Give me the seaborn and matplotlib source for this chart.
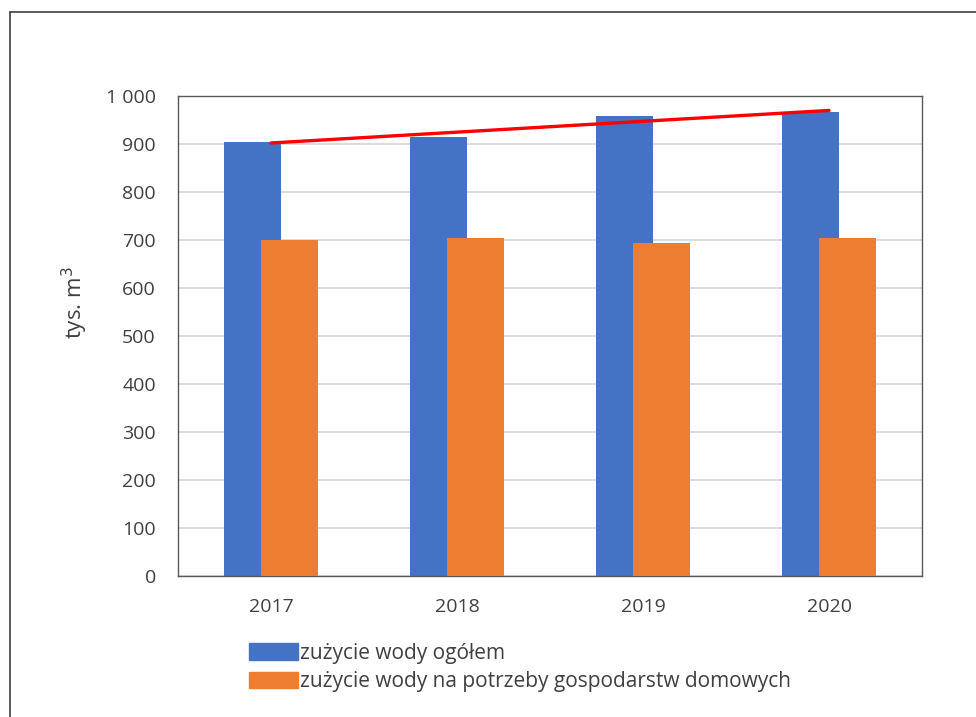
import numpy as np
import pandas as pd
import seaborn as sns
import matplotlib.pyplot as plt
from matplotlib.ticker import FuncFormatter, MultipleLocator
from matplotlib.patches import Patch
from matplotlib.lines import Line2D

# dane (tys. m3)
years = ['2017', '2018', '2019', '2020']
total = [905, 915, 958, 966]
households = [701, 704, 693, 704]
labels = ['zużycie wody ogółem', 'zużycie wody na potrzeby gospodarstw domowych']

blue = '#4472C4'
orange = '#ED7D31'
txt = '#404040'

sns.set_theme(style='white')
plt.rcParams['font.family'] = ['Open Sans', 'DejaVu Sans']

df = pd.DataFrame({'rok': years, 'ogolem': total, 'dom': households})

fig = plt.figure(figsize=(9.76, 7.17), dpi=100)
ax = fig.add_axes([178 / 976, 1 - 576 / 717, 744 / 976, 480 / 717])

sns.barplot(data=df, x='rok', y='ogolem', color=blue, width=0.31, saturation=1, ax=ax, zorder=2)
n = len(ax.patches)
sns.barplot(data=df, x='rok', y='dom', color=orange, width=0.31, saturation=1, ax=ax, zorder=3)
for i, p in enumerate(ax.patches):
    p.set_x(p.get_x() + (-0.1 if i < n else 0.1))
    p.set_edgecolor('none')

# linia trendu (liniowa) dla zużycia ogółem
xs = np.arange(len(years))
fit = np.polyfit(xs, total, 1)
sns.lineplot(x=xs, y=np.polyval(fit, xs), color='red', linewidth=2.4, ax=ax, zorder=4)

ax.set_xlim(-0.5, 3.5)
ax.set_ylim(0, 1000)
ax.yaxis.set_major_locator(MultipleLocator(100))
ax.yaxis.set_major_formatter(FuncFormatter(lambda v, pos: f'{v:,.0f}'.replace(',', ' ')))
ax.grid(axis='y', color='#d9d9d9', linewidth=1.3, zorder=0)
ax.set_axisbelow(True)
for s in ax.spines.values():
    s.set_color('#595959')
    s.set_linewidth(1.0)

ax.tick_params(axis='both', length=0, labelsize=14, colors=txt)
ax.tick_params(axis='y', pad=16)
ax.tick_params(axis='x', pad=16)
ax.set_xlabel('')
ax.set_ylabel('tys. m$^3$', fontsize=16, color=txt)
ax.yaxis.set_label_coords(-0.118, 0.57)

fig.legend(handles=[Patch(color=blue, label=labels[0]), Patch(color=orange, label=labels[1])],
           loc='upper left', bbox_to_anchor=(249 / 976, 1 - 643 / 717), frameon=False,
           handlelength=2.35, handleheight=0.85, handletextpad=0.1, labelspacing=0.35,
           borderaxespad=0, borderpad=0, fontsize=15, labelcolor=txt)

# ramka wykresu
fig.add_artist(Line2D([10 / 976, 10 / 976], [0, 1 - 12 / 717], transform=fig.transFigure, color='#404040', lw=1.2))
fig.add_artist(Line2D([10 / 976, 1], [1 - 12 / 717, 1 - 12 / 717], transform=fig.transFigure, color='#404040', lw=1.2))

fig.savefig('out.png', dpi=100)
